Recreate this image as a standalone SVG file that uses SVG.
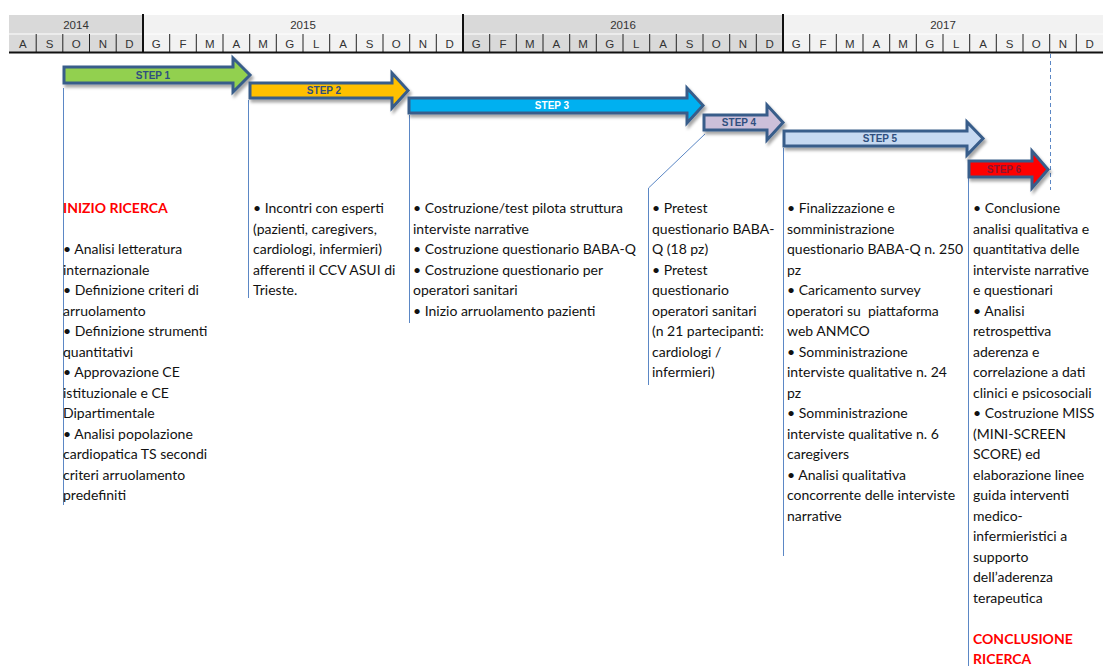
<svg xmlns="http://www.w3.org/2000/svg" width="1103" height="666" viewBox="0 0 1103 666">
<style>
.hdr{font-family:"Liberation Sans",Arial,sans-serif;font-size:11.5px;fill:#333;text-anchor:middle}
.g1{fill:#d9d9d9}.g2{fill:#f2f2f2}
.sep{stroke:#222;stroke-width:1}
.ysep{stroke:#111;stroke-width:2}
.arr{stroke:#385d8a;stroke-width:3;stroke-linejoin:miter;filter:url(#sh)}
.lbl{font-family:"Liberation Sans",Arial,sans-serif;font-size:10px;font-weight:bold;fill:#2f4f7f;text-anchor:middle}
.vl{stroke:#5b87c5;stroke-width:1;fill:none}
.txt{font-family:Lato,"Liberation Sans",sans-serif;font-size:14px;fill:#111}
.red{fill:#ff0000;font-weight:bold}
</style>
<defs>
<filter id="sh" x="-10%" y="-30%" width="120%" height="170%">
<feDropShadow dx="2" dy="3" stdDeviation="1.5" flood-color="#000" flood-opacity="0.35"/>
</filter>
</defs>
<rect width="1103" height="666" fill="#fff"/>
<g id="header">
<rect class="g1" x="9" y="15" width="134" height="37"/>
<rect class="g2" x="143" y="15" width="320" height="37"/>
<rect class="g1" x="463" y="15" width="320" height="37"/>
<rect class="g2" x="783" y="15" width="320" height="37"/>
<line x1="9" y1="34" x2="1103" y2="34" stroke="#fff" stroke-width="1"/>
<text class="hdr" x="76" y="29">2014</text>
<text class="hdr" x="303" y="29">2015</text>
<text class="hdr" x="623" y="29">2016</text>
<text class="hdr" x="943" y="29">2017</text>
<g class="sep">
<line x1="36.2" y1="34" x2="36.2" y2="52"/><line x1="62.8" y1="34" x2="62.8" y2="52"/><line x1="89.5" y1="34" x2="89.5" y2="52"/><line x1="116.2" y1="34" x2="116.2" y2="52"/>
<line x1="169.7" y1="34" x2="169.7" y2="52"/><line x1="196.3" y1="34" x2="196.3" y2="52"/><line x1="223" y1="34" x2="223" y2="52"/><line x1="249.7" y1="34" x2="249.7" y2="52"/><line x1="276.3" y1="34" x2="276.3" y2="52"/><line x1="303" y1="34" x2="303" y2="52"/><line x1="329.7" y1="34" x2="329.7" y2="52"/><line x1="356.3" y1="34" x2="356.3" y2="52"/><line x1="383" y1="34" x2="383" y2="52"/><line x1="409.7" y1="34" x2="409.7" y2="52"/><line x1="436.3" y1="34" x2="436.3" y2="52"/>
<line x1="489.7" y1="34" x2="489.7" y2="52"/><line x1="516.3" y1="34" x2="516.3" y2="52"/><line x1="543" y1="34" x2="543" y2="52"/><line x1="569.7" y1="34" x2="569.7" y2="52"/><line x1="596.3" y1="34" x2="596.3" y2="52"/><line x1="623" y1="34" x2="623" y2="52"/><line x1="649.7" y1="34" x2="649.7" y2="52"/><line x1="676.3" y1="34" x2="676.3" y2="52"/><line x1="703" y1="34" x2="703" y2="52"/><line x1="729.7" y1="34" x2="729.7" y2="52"/><line x1="756.3" y1="34" x2="756.3" y2="52"/>
<line x1="809.7" y1="34" x2="809.7" y2="52"/><line x1="836.3" y1="34" x2="836.3" y2="52"/><line x1="863" y1="34" x2="863" y2="52"/><line x1="889.7" y1="34" x2="889.7" y2="52"/><line x1="916.3" y1="34" x2="916.3" y2="52"/><line x1="943" y1="34" x2="943" y2="52"/><line x1="969.7" y1="34" x2="969.7" y2="52"/><line x1="996.3" y1="34" x2="996.3" y2="52"/><line x1="1023" y1="34" x2="1023" y2="52"/><line x1="1049.7" y1="34" x2="1049.7" y2="52"/><line x1="1076.3" y1="34" x2="1076.3" y2="52"/>
</g>
<g class="ysep">
<line x1="143" y1="14" x2="143" y2="52"/><line x1="463" y1="14" x2="463" y2="52"/><line x1="783" y1="14" x2="783" y2="52"/>
</g>
<line x1="9" y1="52.5" x2="1103" y2="52.5" stroke="#111" stroke-width="2"/>
<g>
<text class="hdr" x="22.8" y="47.5">A</text><text class="hdr" x="49.5" y="47.5">S</text><text class="hdr" x="76.2" y="47.5">O</text><text class="hdr" x="102.8" y="47.5">N</text><text class="hdr" x="129.5" y="47.5">D</text>
<text class="hdr" x="156.3" y="47.5">G</text><text class="hdr" x="183" y="47.5">F</text><text class="hdr" x="209.7" y="47.5">M</text><text class="hdr" x="236.3" y="47.5">A</text><text class="hdr" x="263" y="47.5">M</text><text class="hdr" x="289.7" y="47.5">G</text><text class="hdr" x="316.3" y="47.5">L</text><text class="hdr" x="343" y="47.5">A</text><text class="hdr" x="369.7" y="47.5">S</text><text class="hdr" x="396.3" y="47.5">O</text><text class="hdr" x="423" y="47.5">N</text><text class="hdr" x="449.7" y="47.5">D</text>
<text class="hdr" x="476.3" y="47.5">G</text><text class="hdr" x="503" y="47.5">F</text><text class="hdr" x="529.7" y="47.5">M</text><text class="hdr" x="556.3" y="47.5">A</text><text class="hdr" x="583" y="47.5">M</text><text class="hdr" x="609.7" y="47.5">G</text><text class="hdr" x="636.3" y="47.5">L</text><text class="hdr" x="663" y="47.5">A</text><text class="hdr" x="689.7" y="47.5">S</text><text class="hdr" x="716.3" y="47.5">O</text><text class="hdr" x="743" y="47.5">N</text><text class="hdr" x="769.7" y="47.5">D</text>
<text class="hdr" x="796.3" y="47.5">G</text><text class="hdr" x="823" y="47.5">F</text><text class="hdr" x="849.7" y="47.5">M</text><text class="hdr" x="876.3" y="47.5">A</text><text class="hdr" x="903" y="47.5">M</text><text class="hdr" x="929.7" y="47.5">G</text><text class="hdr" x="956.3" y="47.5">L</text><text class="hdr" x="983" y="47.5">A</text><text class="hdr" x="1009.7" y="47.5">S</text><text class="hdr" x="1036.3" y="47.5">O</text><text class="hdr" x="1063" y="47.5">N</text><text class="hdr" x="1089.7" y="47.5">D</text>
</g>
</g>
<g id="connectors">
<line class="vl" x1="63.5" y1="88" x2="63.5" y2="505"/>
<line class="vl" x1="248.5" y1="100" x2="248.5" y2="298"/>
<line class="vl" x1="409.5" y1="115" x2="409.5" y2="323"/>
<polyline class="vl" points="705,134 648.5,188 648.5,385"/>
<line class="vl" x1="783.5" y1="148" x2="783.5" y2="556"/>
<line class="vl" x1="968.5" y1="163" x2="968.5" y2="666"/>
<line class="vl" x1="1050.5" y1="54" x2="1050.5" y2="190" stroke-dasharray="4,3"/>
</g>
<g id="step1">
<polygon class="arr" fill="#92d050" points="64,67 233,67 233,58 250,75 233,92 233,83 64,83"/>
<text class="lbl" x="153" y="79">STEP 1</text>
</g>
<g id="step2">
<polygon class="arr" fill="#ffc000" points="250,83 392,83 392,73 408,90.5 392,108 392,98 250,98"/>
<text class="lbl" x="324" y="94">STEP 2</text>
</g>
<g id="step3">
<polygon class="arr" fill="#00b0f0" points="409,98 687,98 687,88 703,105.5 687,123 687,113 409,113"/>
<text class="lbl" x="552" y="109" style="fill:#fff">STEP 3</text>
</g>
<g id="step4">
<polygon class="arr" fill="#ccc0da" points="704,115 767,115 767,105 783,122.5 767,140 767,130 704,130"/>
<text class="lbl" x="739" y="126">STEP 4</text>
</g>
<g id="step5">
<polygon class="arr" fill="#c6d9f1" points="784,131 967,131 967,122 983,138.5 967,155 967,146 784,146"/>
<text class="lbl" x="880" y="142">STEP 5</text>
</g>
<g id="step6">
<polygon class="arr" fill="#ff0000" points="969,161 1032,161 1032,151 1048,169.5 1032,188 1032,177 969,177"/>
<text class="lbl" x="1004" y="173" style="fill:#8a1530">STEP 6</text>
</g>
<g id="col1">
<text class="txt" x="63" y="213"><tspan class="red">INIZIO RICERCA</tspan>
<tspan x="63" dy="41">• Analisi letteratura</tspan>
<tspan x="63" dy="20.5">internazionale</tspan>
<tspan x="63" dy="20.5">• Definizione criteri di</tspan>
<tspan x="63" dy="20.5">arruolamento</tspan>
<tspan x="63" dy="20.5">• Definizione strumenti</tspan>
<tspan x="63" dy="20.5">quantitativi</tspan>
<tspan x="63" dy="20.5">• Approvazione CE</tspan>
<tspan x="63" dy="20.5">istituzionale e CE</tspan>
<tspan x="63" dy="20.5">Dipartimentale</tspan>
<tspan x="63" dy="20.5">• Analisi popolazione</tspan>
<tspan x="63" dy="20.5">cardiopatica TS secondi</tspan>
<tspan x="63" dy="20.5">criteri arruolamento</tspan>
<tspan x="63" dy="20.5">predefiniti</tspan></text>
</g>
<g id="col2">
<text class="txt" x="253" y="213"><tspan x="253">• Incontri con esperti</tspan>
<tspan x="253" dy="20.5">(pazienti, caregivers,</tspan>
<tspan x="253" dy="20.5">cardiologi, infermieri)</tspan>
<tspan x="253" dy="20.5">afferenti il CCV ASUI di</tspan>
<tspan x="253" dy="20.5">Trieste.</tspan></text>
</g>
<g id="col3">
<text class="txt" x="413" y="213"><tspan x="413">• Costruzione/test pilota struttura</tspan>
<tspan x="413" dy="20.5">interviste narrative</tspan>
<tspan x="413" dy="20.5">• Costruzione questionario BABA-Q</tspan>
<tspan x="413" dy="20.5">• Costruzione questionario per</tspan>
<tspan x="413" dy="20.5">operatori sanitari</tspan>
<tspan x="413" dy="20.5">• Inizio arruolamento pazienti</tspan></text>
</g>
<g id="col4">
<text class="txt" x="652" y="213"><tspan x="652">• Pretest</tspan>
<tspan x="652" dy="20.5">questionario BABA-</tspan>
<tspan x="652" dy="20.5">Q (18 pz)</tspan>
<tspan x="652" dy="20.5">• Pretest</tspan>
<tspan x="652" dy="20.5">questionario</tspan>
<tspan x="652" dy="20.5">operatori sanitari</tspan>
<tspan x="652" dy="20.5">(n 21 partecipanti:</tspan>
<tspan x="652" dy="20.5">cardiologi /</tspan>
<tspan x="652" dy="20.5">infermieri)</tspan></text>
</g>
<g id="col5">
<text class="txt" x="787" y="213"><tspan x="787">• Finalizzazione e</tspan>
<tspan x="787" dy="20.5">somministrazione</tspan>
<tspan x="787" dy="20.5">questionario BABA-Q n. 250</tspan>
<tspan x="787" dy="20.5">pz</tspan>
<tspan x="787" dy="20.5">• Caricamento survey</tspan>
<tspan x="787" dy="20.5" xml:space="preserve">operatori su  piattaforma</tspan>
<tspan x="787" dy="20.5">web ANMCO</tspan>
<tspan x="787" dy="20.5">• Somministrazione</tspan>
<tspan x="787" dy="20.5">interviste qualitative n. 24</tspan>
<tspan x="787" dy="20.5">pz</tspan>
<tspan x="787" dy="20.5">• Somministrazione</tspan>
<tspan x="787" dy="20.5">interviste qualitative n. 6</tspan>
<tspan x="787" dy="20.5">caregivers</tspan>
<tspan x="787" dy="20.5">• Analisi qualitativa</tspan>
<tspan x="787" dy="20.5">concorrente delle interviste</tspan>
<tspan x="787" dy="20.5">narrative</tspan></text>
</g>
<g id="col6">
<text class="txt" x="973" y="213"><tspan x="973">• Conclusione</tspan>
<tspan x="973" dy="20.5">analisi qualitativa e</tspan>
<tspan x="973" dy="20.5">quantitativa delle</tspan>
<tspan x="973" dy="20.5">interviste narrative</tspan>
<tspan x="973" dy="20.5">e questionari</tspan>
<tspan x="973" dy="20.5">• Analisi</tspan>
<tspan x="973" dy="20.5">retrospettiva</tspan>
<tspan x="973" dy="20.5">aderenza e</tspan>
<tspan x="973" dy="20.5">correlazione a dati</tspan>
<tspan x="973" dy="20.5">clinici e psicosociali</tspan>
<tspan x="973" dy="20.5">• Costruzione MISS</tspan>
<tspan x="973" dy="20.5">(MINI-SCREEN</tspan>
<tspan x="973" dy="20.5">SCORE) ed</tspan>
<tspan x="973" dy="20.5">elaborazione linee</tspan>
<tspan x="973" dy="20.5">guida interventi</tspan>
<tspan x="973" dy="20.5">medico-</tspan>
<tspan x="973" dy="20.5">infermieristici a</tspan>
<tspan x="973" dy="20.5">supporto</tspan>
<tspan x="973" dy="20.5">dell’aderenza</tspan>
<tspan x="973" dy="20.5">terapeutica</tspan>
<tspan x="973" dy="41" class="red">CONCLUSIONE</tspan>
<tspan x="973" dy="20.5" class="red">RICERCA</tspan></text>
</g>
</svg>
